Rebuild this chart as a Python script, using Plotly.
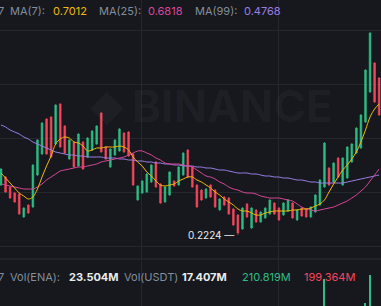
import plotly.graph_objects as go

# ---- data (price units) ----
idx = list(range(84))
opens = [0.3224,0.3384,0.3184,0.3064,0.3044,0.2584,0.2824,0.2784,0.3424,0.3844,
         0.4544,0.4584,0.4044,0.4844,0.4404,0.3744,0.4084,0.3604,0.4084,0.3784,
         0.3924,0.4044,0.4664,0.3984,0.3584,0.3824,0.3904,0.4264,0.4284,0.3844,
         0.2924,0.3064,0.3084,0.3284,0.3684,0.3244,0.2884,0.3024,0.3304,0.3224,
         0.3424,0.3924,0.3584,0.3224,0.3124,0.2964,0.3224,0.3124,0.2724,0.2984,
         0.2964,0.2744,0.2624,0.2344,0.2844,0.2364,0.2724,0.2484,0.2564,0.2644,
         0.2864,0.2764,0.2624,0.2704,0.2864,0.2524,0.2764,0.2744,0.2584,0.2684,
         0.2824,0.3184,0.3564,0.3284,0.3764,0.3224,0.3364,0.3684,0.3864,0.3964,
         0.4484,0.5084,0.5664,0.5364]
closes = [0.3544,0.3084,0.2964,0.2884,0.2644,0.2764,0.2664,0.3624,0.4124,0.4464,
          0.3844,0.3784,0.4824,0.3984,0.3864,0.4124,0.3584,0.4244,0.3544,0.4164,
          0.4304,0.4404,0.3884,0.3744,0.3944,0.4124,0.4344,0.3884,0.3804,0.3224,
          0.3204,0.3304,0.3444,0.3624,0.3184,0.2864,0.3184,0.3484,0.3204,0.3584,
          0.3864,0.3384,0.3184,0.2784,0.2924,0.3144,0.2984,0.2784,0.2944,0.2824,
          0.2644,0.2424,0.2264,0.2764,0.2584,0.2764,0.2484,0.2684,0.2764,0.2924,
          0.2644,0.2524,0.2864,0.2924,0.2564,0.2724,0.2604,0.2584,0.2784,0.3024,
          0.3324,0.4064,0.3224,0.3664,0.3384,0.3764,0.3984,0.4044,0.4364,0.4624,
          0.5524,0.6264,0.4884,0.4624]
highs = [0.3564,0.3404,0.3204,0.3084,0.3064,0.2784,0.2844,0.3644,0.4144,0.4484,
         0.4564,0.4604,0.4844,0.4864,0.4424,0.4144,0.4104,0.4264,0.4104,0.4184,
         0.4324,0.4424,0.4684,0.4004,0.3964,0.4144,0.4364,0.4284,0.4304,0.3864,
         0.3224,0.3324,0.3464,0.3644,0.3704,0.3264,0.3204,0.3504,0.3324,0.3604,
         0.3884,0.3944,0.3604,0.3244,0.3144,0.3164,0.3244,0.3144,0.2964,0.3004,
         0.2984,0.2764,0.2644,0.2784,0.2864,0.2784,0.2744,0.2704,0.2784,0.2944,
         0.2884,0.2784,0.2884,0.2944,0.2884,0.2744,0.2784,0.2764,0.2804,0.3044,
         0.3344,0.4084,0.3584,0.3684,0.3784,0.3784,0.4004,0.4064,0.4384,0.4644,
         0.5544,0.6284,0.5684,0.5384]
lows = [0.3204,0.3064,0.2944,0.2864,0.2624,0.2564,0.2644,0.2764,0.3404,0.3824,
        0.3824,0.3764,0.4024,0.3964,0.3844,0.3724,0.3564,0.3584,0.3524,0.3764,
        0.3904,0.4024,0.3864,0.3724,0.3564,0.3804,0.3884,0.3864,0.3784,0.3204,
        0.2904,0.3044,0.3064,0.3264,0.3164,0.2844,0.2864,0.3004,0.3184,0.3204,
        0.3404,0.3364,0.3164,0.2764,0.2904,0.2944,0.2964,0.2764,0.2704,0.2804,
        0.2624,0.2404,0.2224,0.2324,0.2564,0.2344,0.2464,0.2464,0.2544,0.2624,
        0.2624,0.2504,0.2604,0.2684,0.2544,0.2504,0.2584,0.2564,0.2564,0.2664,
        0.2804,0.3164,0.3204,0.3264,0.3364,0.3204,0.3344,0.3664,0.3844,0.3944,
        0.4464,0.5064,0.4864,0.4604]
ma7 = [0.3464,0.3364,0.3264,0.3164,0.3064,0.3004,0.2944,0.2984,0.3144,0.3384,
       0.3604,0.3804,0.4044,0.4144,0.4184,0.4164,0.4084,0.4064,0.4004,0.3904,
       0.3924,0.3964,0.3964,0.3984,0.3984,0.3984,0.4004,0.3984,0.3924,0.3784,
       0.3684,0.3604,0.3484,0.3404,0.3304,0.3224,0.3204,0.3224,0.3244,0.3304,
       0.3344,0.3384,0.3384,0.3324,0.3284,0.3224,0.3164,0.3084,0.3024,0.2944,
       0.2884,0.2824,0.2744,0.2704,0.2704,0.2664,0.2624,0.2624,0.2664,0.2684,
       0.2704,0.2704,0.2704,0.2704,0.2724,0.2724,0.2744,0.2744,0.2764,0.2804,
       0.2844,0.2924,0.3084,0.3244,0.3384,0.3524,0.3624,0.3744,0.3884,0.4084,
       0.4324,0.4584,0.4744,0.4844]
ma25 = [0.3244,0.3224,0.3204,0.3184,0.3164,0.3144,0.3144,0.3144,0.3184,0.3244,
        0.3324,0.3384,0.3444,0.3504,0.3524,0.3544,0.3564,0.3584,0.3584,0.3604,
        0.3624,0.3644,0.3684,0.3704,0.3724,0.3744,0.3764,0.3784,0.3824,0.3864,
        0.3904,0.3904,0.3864,0.3824,0.3764,0.3724,0.3664,0.3644,0.3644,0.3644,
        0.3624,0.3604,0.3584,0.3524,0.3464,0.3404,0.3384,0.3344,0.3284,0.3244,
        0.3184,0.3144,0.3124,0.3084,0.3064,0.3064,0.3044,0.3004,0.2984,0.2964,
        0.2964,0.2964,0.2944,0.2924,0.2904,0.2844,0.2784,0.2744,0.2724,0.2704,
        0.2724,0.2744,0.2764,0.2784,0.2824,0.2864,0.2904,0.2964,0.3024,0.3104,
        0.3184,0.3304,0.3424,0.3544]
ma99 = [0.4424,0.4384,0.4324,0.4284,0.4244,0.4184,0.4144,0.4084,0.4044,0.4004,
        0.3964,0.3924,0.3884,0.3864,0.3844,0.3824,0.3824,0.3804,0.3804,0.3784,
        0.3784,0.3784,0.3784,0.3764,0.3764,0.3764,0.3744,0.3744,0.3724,0.3724,
        0.3704,0.3704,0.3684,0.3684,0.3664,0.3664,0.3644,0.3644,0.3624,0.3624,
        0.3604,0.3604,0.3604,0.3584,0.3584,0.3564,0.3564,0.3544,0.3524,0.3524,
        0.3504,0.3484,0.3464,0.3464,0.3464,0.3444,0.3444,0.3424,0.3404,0.3404,
        0.3384,0.3384,0.3364,0.3364,0.3344,0.3324,0.3324,0.3304,0.3284,0.3284,
        0.3264,0.3264,0.3264,0.3264,0.3264,0.3264,0.3284,0.3304,0.3324,0.3344,
        0.3364,0.3384,0.3404,0.3424]
# volume in millions (only the largest bars reach the visible part of the pane)
volume = [42,38,35,30,45,28,26,60,75,70,
          65,68,72,66,50,40,44,48,46,38,
          36,40,58,34,30,33,37,35,36,55,
          45,32,34,36,48,42,30,38,22,34,
          40,46,38,44,28,25,30,36,24,22,
          30,40,52,48,30,34,26,22,24,32,
          25,28,24,26,30,22,20,22,24,40,
          70,158,60,55,50,62,58,54,64,80,
          106,168,95,85]

low_label = "0.2224"
ma_labels = ["MA(7):", "MA(25):", "MA(99):"]
ma_values = ["0.7012", "0.6818", "0.4768"]
vol_labels = ["Vol(ENA):", "Vol(USDT)"]
vol_values = ["23.504M", "17.407M", "210.819M", "199.364M"]

# ---- style ----
BG = "#16181d"
GRID = "#24272d"
UP = "#2ebd85"
DOWN = "#f6465d"
C7 = "#f0b90b"
C25 = "#d9479a"
C99 = "#9a7ee6"
LABEL = "#848e9c"
FONT = "Inter, Roboto, sans-serif"

W, H = 381, 306

fig = go.Figure()
fig.add_trace(go.Candlestick(
    x=idx, open=opens, high=highs, low=lows, close=closes,
    increasing=dict(line=dict(color=UP, width=0.6), fillcolor=UP),
    decreasing=dict(line=dict(color=DOWN, width=0.6), fillcolor=DOWN),
    whiskerwidth=0, xaxis="x", yaxis="y", showlegend=False))
for vals, col in [(ma99, C99), (ma25, C25), (ma7, C7)]:
    fig.add_trace(go.Scatter(x=idx, y=vals, mode="lines",
                             line=dict(color=col, width=1, shape="spline"),
                             xaxis="x", yaxis="y", showlegend=False))
vol_colors = [UP if c >= o else DOWN for o, c in zip(opens, closes)]
fig.add_trace(go.Bar(x=idx, y=volume, marker=dict(color=vol_colors, line=dict(width=0)),
                     width=0.3, xaxis="x2", yaxis="y2", showlegend=False))

px_per = 4.556
xr = [-1 / px_per, (W - 1) / px_per]
sep = 1 - 259 / H

fig.update_layout(
    width=W, height=H, margin=dict(l=0, r=0, t=0, b=0),
    paper_bgcolor=BG, plot_bgcolor=BG,
    font=dict(family=FONT, color=LABEL, size=11),
    boxgap=0.45,
    xaxis=dict(range=xr, domain=[0, 1], showticklabels=False, rangeslider=dict(visible=False),
               tickvals=[30.73, 60.8], showgrid=True, gridcolor=GRID, gridwidth=1,
               zeroline=False, anchor="y", fixedrange=True),
    yaxis=dict(range=[0.6924 - 0.002 * 259, 0.6924], domain=[sep, 1],
               tick0=0.3084, dtick=0.108, showticklabels=False, showgrid=True,
               gridcolor=GRID, gridwidth=1, zeroline=False),
    xaxis2=dict(range=xr, domain=[0, 1], showticklabels=False, tickvals=[30.73, 60.8],
                showgrid=True, gridcolor=GRID, zeroline=False, anchor="y2", matches="x"),
    yaxis2=dict(range=[100, 200], domain=[0, sep - 0.003], showticklabels=False,
                showgrid=False, zeroline=False),
    bargap=0,
    hovermode=False,
)

fig.add_shape(type="line", xref="paper", yref="paper", x0=0, x1=1, y0=sep, y1=sep,
              line=dict(color="#2b2f36", width=1))

def px(x):
    return x / W

def py(y):
    return 1 - y / H

def ann(x, y, text, color, size=11, bold=False, xanchor="left"):
    t = f"<b>{text}</b>" if bold else text
    fig.add_annotation(x=px(x), y=py(y), xref="paper", yref="paper", text=t,
                       showarrow=False, xanchor=xanchor, yanchor="middle",
                       font=dict(color=color, size=size, family=FONT))

# watermark
fig.add_annotation(x=px(232), y=py(106), xref="paper", yref="paper", text="<b>BINANCE</b>",
                   showarrow=False, font=dict(color="rgba(255,255,255,0.035)", size=44, family=FONT))
fig.add_annotation(x=px(88), y=py(104), xref="paper", yref="paper", text="◆",
                   showarrow=False, font=dict(color="rgba(255,255,255,0.035)", size=44, family="DejaVu Sans"))

# MA header
ann(-4, 11, "7", LABEL)
ann(8, 11, ma_labels[0], LABEL)
ann(51, 11, ma_values[0], C7)
ann(97, 11, ma_labels[1], LABEL)
ann(146, 11, ma_values[1], C25)
ann(193, 11, ma_labels[2], LABEL)
ann(242, 11, ma_values[2], C99)

# Volume header
ann(-4, 277, "7", LABEL)
ann(8, 277, vol_labels[0], LABEL)
ann(67, 277, vol_values[0], "#eaecef", bold=True)
ann(122, 277, vol_labels[1], LABEL)
ann(180, 277, vol_values[1], "#eaecef", bold=True)
ann(240, 277, vol_values[2], UP)
ann(302, 277, vol_values[3], DOWN)

# low marker
fig.add_annotation(x=52, y=min(lows), xref="x", yref="y", text=low_label + " —",
                   showarrow=False, xanchor="right", yanchor="middle", xshift=-2,
                   font=dict(color="#eaecef", size=10, family=FONT))

fig.write_html("out.html")
